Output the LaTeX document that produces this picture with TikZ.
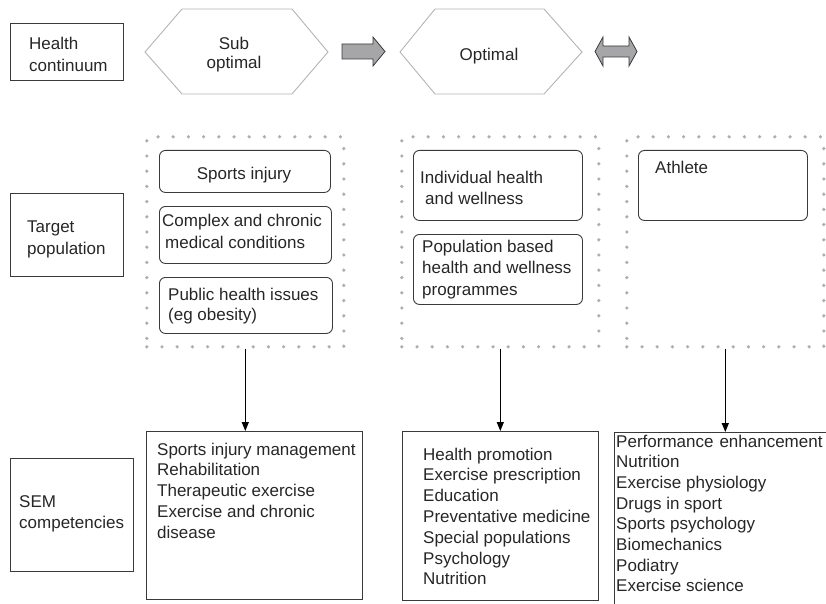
\documentclass[tikz,border=0pt]{standalone}
\usepackage{fontspec}
\setmainfont{Liberation Sans}
\usetikzlibrary{arrows.meta}
\definecolor{boxc}{HTML}{3A3A3A}
\definecolor{hexc}{HTML}{B4B4B4}
\definecolor{dotc}{HTML}{AEAEB0}
\definecolor{arrc}{HTML}{A6A6A8}
\definecolor{textc}{HTML}{262626}
\begin{document}
\begin{tikzpicture}[x=1pt,y=-1pt,
  plainbox/.style={draw=boxc, line width=0.9pt, rectangle, inner sep=0pt, anchor=north west},
  roundbox/.style={draw=boxc, line width=0.9pt, rectangle, rounded corners=6pt, inner sep=0pt, anchor=north west},
  dotbox/.style={draw=dotc, line width=3.6pt, line cap=round, dash pattern=on 0pt off 15.2pt, rectangle, inner sep=0pt, anchor=north west},
  hexshape/.style={draw=hexc, line width=0.9pt, fill=white},
  blockarrow/.style={draw=boxc, line width=0.8pt, fill=arrc, line join=miter},
  txt/.style={inner sep=0pt, font=\fontsize{17}{20.8}\selectfont, text=textc},
  link/.style={draw=black, line width=1.3pt, -{Triangle[length=9pt,width=7pt]}}
]
\useasboundingbox (0,0) rectangle (826,604);
\clip (0,0) rectangle (826,604);

% row labels
\node[plainbox, minimum width=113pt, minimum height=57pt] (hc) at (10,23) {};
\node[txt, anchor=base west] (hct1) at (29,50) {Health};
\node[txt, anchor=base west] (hct2) at (29,72) {continuum};

\node[plainbox, minimum width=113pt, minimum height=83pt] (tp) at (10,193) {};
\node[txt, anchor=base west] (tpt1) at (27,232) {Target};
\node[txt, anchor=base west] (tpt2) at (27,254) {population};

\node[plainbox, minimum width=123pt, minimum height=113pt] (sem) at (10,458) {};
\node[txt, anchor=base west] (semt1) at (19,507) {SEM};
\node[txt, anchor=base west] (semt2) at (19,528) {competencies};

% health continuum
\draw[hexshape] (145,52) -- (182,9) -- (292,9) -- (328,52) -- (292,94) -- (182,94) -- cycle;
\node[txt, anchor=base] (subt1) at (234,50) {Sub};
\node[txt, anchor=base] (subt2) at (234,69) {optimal};
\draw[blockarrow] (342,44) -- (373,44) -- (373,37) -- (385,51.5) -- (373,66) -- (373,59) -- (342,59) -- cycle;
\draw[hexshape] (400,52) -- (435,9) -- (544,9) -- (582,52) -- (544,94) -- (435,94) -- cycle;
\node[txt, anchor=base] (optt) at (489,61) {Optimal};
\draw[blockarrow] (595,51.5) -- (603,37) -- (603,46) -- (629,46) -- (629,37) -- (637,51.5) -- (629,66) -- (629,57) -- (603,57) -- (603,66) -- cycle;

% target population groups
\node[dotbox, minimum width=197pt, minimum height=210pt] (d1) at (145,135) {};
\node[dotbox, minimum width=197pt, minimum height=210pt] (d2) at (400,135) {};
\node[dotbox, minimum width=197pt, minimum height=210pt] (d3) at (625,135) {};

\node[roundbox, minimum width=171pt, minimum height=42pt] (r1) at (159,150) {};
\node[txt, anchor=base] (r1t) at (244,179) {Sports injury};
\node[roundbox, minimum width=172pt, minimum height=57pt] (r2) at (159,206) {};
\node[txt, anchor=base west] (r2t1) at (162,226) {Complex and chronic};
\node[txt, anchor=base west] (r2t2) at (165,248) {medical conditions};
\node[roundbox, minimum width=173pt, minimum height=56pt] (r3) at (159,277) {};
\node[txt, anchor=base west] (r3t1) at (168,300) {Public health issues};
\node[txt, anchor=base west] (r3t2) at (168,320) {(eg obesity)};

\node[roundbox, minimum width=169pt, minimum height=70pt] (r4) at (413,150) {};
\node[txt, anchor=base west] (r4t1) at (420,183) {Individual health};
\node[txt, anchor=base west] (r4t2) at (425,204) {and wellness};
\node[roundbox, minimum width=169pt, minimum height=70pt] (r5) at (413,234) {};
\node[txt, anchor=base west] (r5t1) at (422,252) {Population based};
\node[txt, anchor=base west] (r5t2) at (422,273) {health and wellness};
\node[txt, anchor=base west] (r5t3) at (422,295) {programmes};

\node[roundbox, minimum width=169pt, minimum height=70pt] (r6) at (638,150) {};
\node[txt, anchor=base west] (r6t) at (655,173) {Athlete};

% competencies
\node[plainbox, minimum width=216pt, minimum height=168pt] (c1) at (146,431) {};
\foreach \t [count=\i from 0] in {Sports injury management, Rehabilitation, Therapeutic exercise, Exercise and chronic, disease}
  \node[txt, anchor=base west] (c1t\i) at (157,455+20.8*\i) {\t};

\node[plainbox, minimum width=196pt, minimum height=169pt] (c2) at (402,431) {};
\foreach \t [count=\i from 0] in {Health promotion, Exercise prescription, Education, Preventative medicine, Special populations, Psychology, Nutrition}
  \node[txt, anchor=base west] (c2t\i) at (423,460+20.8*\i) {\t};

\node[plainbox, minimum width=240pt, minimum height=220pt] (c3) at (614,432) {};
\node[txt, anchor=base west] (c3t0) at (616,447) {Performance\hspace{6pt}enhancement};
\foreach \t [count=\i from 1] in {Nutrition, Exercise physiology, Drugs in sport, Sports psychology, Biomechanics, Podiatry, Exercise science}
  \node[txt, anchor=base west] (c3t\i) at (616,447+20.7*\i) {\t};

% connectors
\draw[link] (d1.south) -- (d1.south |- c1.north);
\draw[link] (d2.south) -- (d2.south |- c2.north);
\draw[link] (d3.south) -- (d3.south |- c3.north);
\end{tikzpicture}
\end{document}
